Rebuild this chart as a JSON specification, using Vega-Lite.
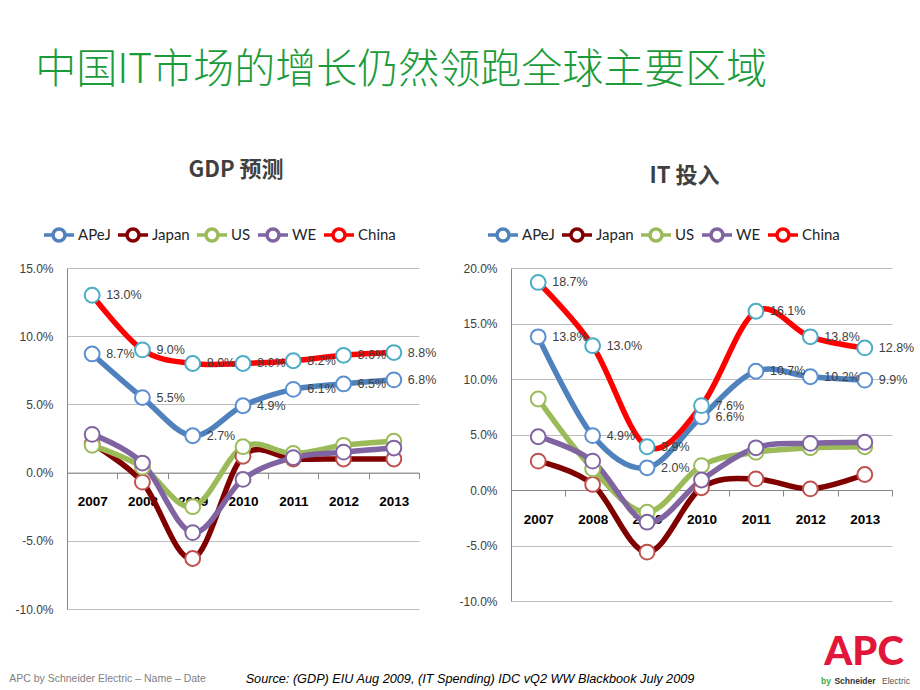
{
  "$schema": "https://vega.github.io/schema/vega-lite/v6.json",
  "background": "white",
  "padding": {"left": 9, "top": 50, "right": 0, "bottom": 0},
  "title": {"text": "中国IT市场的增长仍然领跑全球主要区域", "anchor": "start", "font": "Noto Sans CJK SC", "fontSize": 41, "fontWeight": 300, "color": "#1a9c3a", "dx": 26, "offset": 67},
  "config": {"view": {"stroke": null}},
  "datasets": {
    "gdp": [
      {"series": "APeJ", "year": "2007", "value": 0.087}, {"series": "APeJ", "year": "2008", "value": 0.055}, {"series": "APeJ", "year": "2009", "value": 0.027}, {"series": "APeJ", "year": "2010", "value": 0.049}, {"series": "APeJ", "year": "2011", "value": 0.061}, {"series": "APeJ", "year": "2012", "value": 0.065}, {"series": "APeJ", "year": "2013", "value": 0.068},
      {"series": "Japan", "year": "2007", "value": 0.021}, {"series": "Japan", "year": "2008", "value": -0.007}, {"series": "Japan", "year": "2009", "value": -0.063}, {"series": "Japan", "year": "2010", "value": 0.012}, {"series": "Japan", "year": "2011", "value": 0.010}, {"series": "Japan", "year": "2012", "value": 0.010}, {"series": "Japan", "year": "2013", "value": 0.010},
      {"series": "US", "year": "2007", "value": 0.020}, {"series": "US", "year": "2008", "value": 0.004}, {"series": "US", "year": "2009", "value": -0.025}, {"series": "US", "year": "2010", "value": 0.019}, {"series": "US", "year": "2011", "value": 0.014}, {"series": "US", "year": "2012", "value": 0.020}, {"series": "US", "year": "2013", "value": 0.023},
      {"series": "WE", "year": "2007", "value": 0.028}, {"series": "WE", "year": "2008", "value": 0.007}, {"series": "WE", "year": "2009", "value": -0.044}, {"series": "WE", "year": "2010", "value": -0.005}, {"series": "WE", "year": "2011", "value": 0.011}, {"series": "WE", "year": "2012", "value": 0.015}, {"series": "WE", "year": "2013", "value": 0.018},
      {"series": "China", "year": "2007", "value": 0.130}, {"series": "China", "year": "2008", "value": 0.090}, {"series": "China", "year": "2009", "value": 0.080}, {"series": "China", "year": "2010", "value": 0.080}, {"series": "China", "year": "2011", "value": 0.082}, {"series": "China", "year": "2012", "value": 0.086}, {"series": "China", "year": "2013", "value": 0.088}
    ],
    "it": [
      {"series": "APeJ", "year": "2007", "value": 0.138}, {"series": "APeJ", "year": "2008", "value": 0.049}, {"series": "APeJ", "year": "2009", "value": 0.020}, {"series": "APeJ", "year": "2010", "value": 0.066}, {"series": "APeJ", "year": "2011", "value": 0.107}, {"series": "APeJ", "year": "2012", "value": 0.102}, {"series": "APeJ", "year": "2013", "value": 0.099},
      {"series": "Japan", "year": "2007", "value": 0.026}, {"series": "Japan", "year": "2008", "value": 0.005}, {"series": "Japan", "year": "2009", "value": -0.056}, {"series": "Japan", "year": "2010", "value": 0.002}, {"series": "Japan", "year": "2011", "value": 0.010}, {"series": "Japan", "year": "2012", "value": 0.001}, {"series": "Japan", "year": "2013", "value": 0.014},
      {"series": "US", "year": "2007", "value": 0.082}, {"series": "US", "year": "2008", "value": 0.019}, {"series": "US", "year": "2009", "value": -0.020}, {"series": "US", "year": "2010", "value": 0.022}, {"series": "US", "year": "2011", "value": 0.034}, {"series": "US", "year": "2012", "value": 0.038}, {"series": "US", "year": "2013", "value": 0.039},
      {"series": "WE", "year": "2007", "value": 0.048}, {"series": "WE", "year": "2008", "value": 0.026}, {"series": "WE", "year": "2009", "value": -0.029}, {"series": "WE", "year": "2010", "value": 0.009}, {"series": "WE", "year": "2011", "value": 0.038}, {"series": "WE", "year": "2012", "value": 0.042}, {"series": "WE", "year": "2013", "value": 0.043},
      {"series": "China", "year": "2007", "value": 0.187}, {"series": "China", "year": "2008", "value": 0.130}, {"series": "China", "year": "2009", "value": 0.039}, {"series": "China", "year": "2010", "value": 0.076}, {"series": "China", "year": "2011", "value": 0.161}, {"series": "China", "year": "2012", "value": 0.138}, {"series": "China", "year": "2013", "value": 0.128}
    ]
  },
  "bounds": "full",
  "spacing": 18,
  "vconcat": [
    {
      "hconcat": [
        {
          "width": 352, "height": 341,
          "title": {"text": "GDP 预测", "font": "Noto Sans CJK SC", "fontSize": 22, "fontWeight": "bold", "color": "#404040", "offset": 36, "dx": -7},
          "data": {"name": "gdp"},
          "encoding": {
            "x": {"field": "year", "type": "nominal", "bandPosition": 0.5, "scale": {"type": "band", "paddingInner": 0, "paddingOuter": 0},
                  "axis": {"title": null, "orient": "bottom", "offset": -136.4, "domainColor": "#868686", "tickColor": "#868686", "tickSize": 6, "tickBand": "extent", "labelAngle": 0, "labelFont": "Liberation Sans", "labelFontWeight": "bold", "labelFontSize": 13.5, "labelColor": "#000000", "labelPadding": 16, "grid": false}},
            "y": {"field": "value", "type": "quantitative", "scale": {"domain": [-0.1, 0.15], "nice": false, "zero": false},
                  "axis": {"title": null, "values": [-0.1, -0.05, 0, 0.05, 0.1, 0.15], "labelExpr": "replace(format(datum.value, '.1%'), '−', '-')", "labelFont": "Liberation Sans", "labelFontSize": 12, "labelColor": "#404040", "labelPadding": 14, "ticks": false, "domainColor": "#868686", "gridColor": "#bfbfbf", "grid": true}}
          },
          "layer": [
            {"mark": {"type": "line", "interpolate": "cardinal", "strokeWidth": 5.5},
             "encoding": {"color": {"field": "series", "type": "nominal",
               "scale": {"domain": ["APeJ", "Japan", "US", "WE", "China"], "range": ["#4f81bd", "#800000", "#9bbb59", "#8064a2", "#ff0000"]},
               "legend": {"orient": "none", "legendX": -25, "legendY": -50, "direction": "horizontal", "columns": 5, "title": null,
                 "symbolType": "M-1,0H-0.4M0.4,0H1M-0.4,0A0.4,0.4,0,1,1,0.4,0A0.4,0.4,0,1,1,-0.4,0Z", "symbolSize": 900, "symbolStrokeWidth": 3.5, "symbolFillColor": "white",
                 "labelFont": "Lato", "labelFontSize": 15, "labelColor": "#262626", "labelOffset": 2, "columnPadding": 0}}}},
            {"mark": {"type": "point", "shape": "circle", "size": 220, "fill": "white", "fillOpacity": 1, "strokeWidth": 2, "opacity": 1},
             "encoding": {"stroke": {"field": "series", "type": "nominal",
               "scale": {"domain": ["APeJ", "Japan", "US", "WE", "China"], "range": ["#5b8fd0", "#c0504d", "#9bbb59", "#8064a2", "#4bacc6"]}, "legend": null}}},
            {"transform": [{"filter": "datum.series == 'China' || datum.series == 'APeJ'"}],
             "mark": {"type": "text", "align": "left", "baseline": "middle", "dx": 14, "font": "Liberation Sans", "fontSize": 12.5, "color": "#404040"},
             "encoding": {"text": {"field": "value", "format": ".1%"}}}
          ]
        },
        {
          "width": 381, "height": 333,
          "title": {"text": "IT 投入", "font": "Noto Sans CJK SC", "fontSize": 22, "fontWeight": "bold", "color": "#404040", "offset": 30, "dx": -17},
          "data": {"name": "it"},
          "encoding": {
            "x": {"field": "year", "type": "nominal", "bandPosition": 0.5, "scale": {"type": "band", "paddingInner": 0, "paddingOuter": 0},
                  "axis": {"title": null, "orient": "bottom", "offset": -111, "domainColor": "#868686", "tickColor": "#868686", "tickSize": 6, "tickBand": "extent", "labelAngle": 0, "labelFont": "Liberation Sans", "labelFontWeight": "bold", "labelFontSize": 13.5, "labelColor": "#000000", "labelPadding": 16, "grid": false}},
            "y": {"field": "value", "type": "quantitative", "scale": {"domain": [-0.1, 0.2], "nice": false, "zero": false},
                  "axis": {"title": null, "values": [-0.1, -0.05, 0, 0.05, 0.1, 0.15, 0.2], "labelExpr": "replace(format(datum.value, '.1%'), '−', '-')", "labelFont": "Liberation Sans", "labelFontSize": 12, "labelColor": "#404040", "labelPadding": 14, "ticks": false, "domainColor": "#868686", "gridColor": "#bfbfbf", "grid": true}}
          },
          "layer": [
            {"mark": {"type": "line", "interpolate": "cardinal", "strokeWidth": 5.5},
             "encoding": {"color": {"field": "series", "type": "nominal",
               "scale": {"domain": ["APeJ", "Japan", "US", "WE", "China"], "range": ["#4f81bd", "#800000", "#9bbb59", "#8064a2", "#ff0000"]},
               "legend": {"orient": "none", "legendX": -25, "legendY": -50, "direction": "horizontal", "columns": 5, "title": null,
                 "symbolType": "M-1,0H-0.4M0.4,0H1M-0.4,0A0.4,0.4,0,1,1,0.4,0A0.4,0.4,0,1,1,-0.4,0Z", "symbolSize": 900, "symbolStrokeWidth": 3.5, "symbolFillColor": "white",
                 "labelFont": "Lato", "labelFontSize": 15, "labelColor": "#262626", "labelOffset": 2, "columnPadding": 0}}}},
            {"mark": {"type": "point", "shape": "circle", "size": 220, "fill": "white", "fillOpacity": 1, "strokeWidth": 2, "opacity": 1},
             "encoding": {"stroke": {"field": "series", "type": "nominal",
               "scale": {"domain": ["APeJ", "Japan", "US", "WE", "China"], "range": ["#5b8fd0", "#c0504d", "#9bbb59", "#8064a2", "#4bacc6"]}, "legend": null}}},
            {"transform": [{"filter": "datum.series == 'China' || datum.series == 'APeJ'"}],
             "mark": {"type": "text", "align": "left", "baseline": "middle", "dx": 14, "font": "Liberation Sans", "fontSize": 12.5, "color": "#404040"},
             "encoding": {"text": {"field": "value", "format": ".1%"}}}
          ]
        }
      ],
      "spacing": 92,
      "bounds": "flush",
      "resolve": {"scale": {"color": "independent", "stroke": "independent", "x": "independent", "y": "independent"}, "legend": {"color": "independent", "stroke": "independent"}}
    },
    {
      "hconcat": [
        {"width": 81, "height": 20, "data": {"values": [{"t": "APC by Schneider Electric – Name – Date"}]},
         "mark": {"type": "text", "font": "Liberation Sans", "fontSize": 10.5, "color": "#7f7f7f"},
         "encoding": {"text": {"field": "t", "type": "nominal"}}},
        {"width": 644, "height": 20, "data": {"values": [{"t": "Source: (GDP) EIU Aug 2009, (IT Spending) IDC vQ2 WW Blackbook July 2009"}]},
         "mark": {"type": "text", "font": "Liberation Sans", "fontSize": 12.7, "fontStyle": "italic", "color": "#000000"},
         "encoding": {"text": {"field": "t", "type": "nominal"}}},
        {"width": 110, "height": 20,
         "layer": [
           {"data": {"values": [{"t": "APC"}]}, "mark": {"type": "text", "font": "Lato", "fontSize": 40, "fontWeight": 900, "color": "#e2163b", "dx": 17, "dy": -26}, "encoding": {"text": {"field": "t", "type": "nominal"}}},
           {"data": {"values": [{"t": "by"}]}, "mark": {"type": "text", "font": "Liberation Sans", "fontSize": 8.5, "fontWeight": "bold", "color": "#3daa35", "dx": -21, "dy": 2}, "encoding": {"text": {"field": "t", "type": "nominal"}}},
           {"data": {"values": [{"t": "Schneider"}]}, "mark": {"type": "text", "font": "Liberation Sans", "fontSize": 8.5, "fontWeight": "bold", "color": "#333333", "dx": 8, "dy": 2}, "encoding": {"text": {"field": "t", "type": "nominal"}}},
           {"data": {"values": [{"t": "Electric"}]}, "mark": {"type": "text", "font": "Liberation Sans", "fontSize": 8.5, "color": "#555555", "dx": 49, "dy": 2}, "encoding": {"text": {"field": "t", "type": "nominal"}}}
         ]}
      ],
      "spacing": 0,
      "bounds": "flush"
    }
  ]
}
